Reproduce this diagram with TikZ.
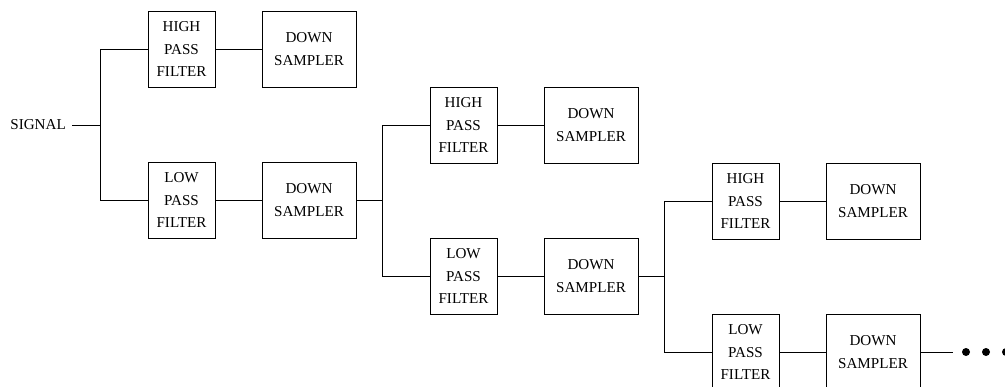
\documentclass[tikz,border=0pt]{standalone}
\usepackage{fontspec}
\setmainfont{Liberation Serif}
\usetikzlibrary{positioning, calc}
\tikzset{
  boxtext/.style={font=\fontsize{8.6}{13}\selectfont, align=center, inner sep=0pt},
  filterbox/.style={draw, boxtext, line width=0.5pt, minimum width=1.34cm, minimum height=1.52cm},
  samplerbox/.style={draw, boxtext, line width=0.5pt, minimum width=1.88cm, minimum height=1.52cm},
  wire/.style={line width=0.5pt},
}

\begin{document}
\begin{tikzpicture}[x=0.02cm, y=-0.02cm]
  \useasboundingbox (0,0) rectangle (1005,386);
  \node[anchor=east, font=\fontsize{8.6}{13}\selectfont] (signal) at (72,125) {SIGNAL};
  % three stages of the filter bank
  \foreach \s in {0,1,2}{
    \node[filterbox] (hpf\s) at (181.5+282*\s, 49+76*\s) {HIGH\\PASS\\FILTER};
    \node[samplerbox] (dsh\s) at (309+282*\s, 49+76*\s) {DOWN\\SAMPLER};
    \node[filterbox] (lpf\s) at (181.5+282*\s, 200+76*\s) {LOW\\PASS\\FILTER};
    \node[samplerbox] (dsl\s) at (309+282*\s, 200+76*\s) {DOWN\\SAMPLER};
    \coordinate (j\s) at (100+282*\s, 124.5+76*\s);
    \draw[wire] (hpf\s.west) -- (hpf\s.west -| j\s) -- (lpf\s.west -| j\s) -- (lpf\s.west);
    \draw[wire] (hpf\s) -- (dsh\s);
    \draw[wire] (lpf\s) -- (dsl\s);}
  \draw[wire] (signal.east) -- (signal.east -| j0);
  \draw[wire] (dsl0.east) -- (dsl0.east -| j1);
  \draw[wire] (dsl1.east) -- (dsl1.east -| j2);
  % continuation
  \coordinate (tail) at (953,352);
  \draw[wire] (dsl2.east) -- (tail);
  \foreach \x in {966,986,1006}{
    \fill (\x,352) circle (0.08cm);}
\end{tikzpicture}
\end{document}
